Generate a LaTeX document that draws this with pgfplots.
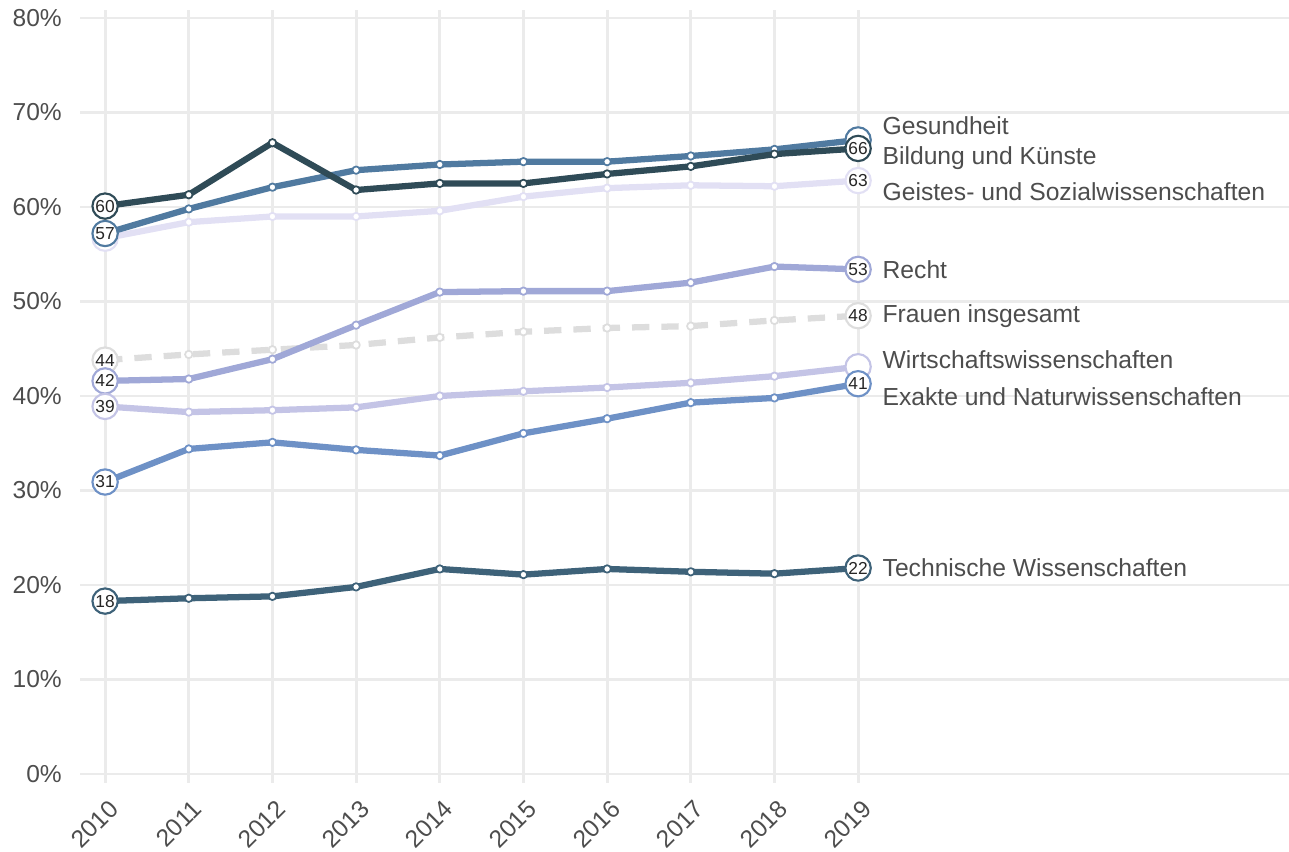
\documentclass[border=0pt]{standalone}
\usepackage{fontspec}
\setmainfont{Liberation Sans}
\usepackage{pgfplots}
\pgfplotsset{compat=1.18}
\definecolor{cGes}{HTML}{507AA0}
\definecolor{cBil}{HTML}{2F4B57}
\definecolor{cGei}{HTML}{E2E0F4}
\definecolor{cRec}{HTML}{A0A8D7}
\definecolor{cFra}{HTML}{DDDDDD}
\definecolor{cWir}{HTML}{C4C4E6}
\definecolor{cExa}{HTML}{6E91C6}
\definecolor{cTec}{HTML}{3E6279}
\definecolor{gridc}{HTML}{EBEBEB}
\definecolor{txt}{HTML}{4D4D4D}
\definecolor{numtxt}{HTML}{262626}
\pgfplotsset{
  serie/.style={line width=4.7pt, line join=round, mark=*, mark size=2.8pt,
    mark options={fill=white, solid, line width=1.3pt}},
  lbl/.style={only marks, mark=*, mark size=9.5pt,
    mark options={fill=white, draw=#1, line width=1.6pt, solid},
    nodes near coords, point meta=explicit symbolic,
    every node near coord/.append style={anchor=center, inner sep=0pt,
      font=\fontsize{13}{13}\selectfont, text=numtxt}},
}
\begin{document}
\begin{tikzpicture}
\useasboundingbox (0,0) rectangle (966.75pt,638.25pt);
\begin{axis}[
  at={(60pt,51pt)}, anchor=south west,
  scale only axis, width=906.75pt, height=579.75pt,
  xmin=2009.70, xmax=2024.15, ymin=-0.95, ymax=80.85,
  axis line style={draw=none}, major tick length=0pt,
  xtick={2010,2011,2012,2013,2014,2015,2016,2017,2018,2019},
  xticklabels={2010,2011,2012,2013,2014,2015,2016,2017,2018,2019},
  ytick={0,10,20,30,40,50,60,70,80},
  yticklabels={0\%,10\%,20\%,30\%,40\%,50\%,60\%,70\%,80\%},
  grid=major, major grid style={draw=gridc, line width=2.2pt},
  tick label style={font=\fontsize{18.4}{18.4}\selectfont, text=txt},
  yticklabel style={anchor=east, inner sep=0pt, xshift=-13.5pt},
  xticklabel style={xshift=2pt, yshift=-11.5pt, rotate=45, anchor=north east, inner sep=0pt},
  clip=false,
]
% Frauen insgesamt
\addplot[serie, color=cFra, dash pattern=on 13pt off 9pt] coordinates {
(2010,43.8) (2011,44.4) (2012,44.9) (2013,45.4) (2014,46.2) (2015,46.8) (2016,47.2) (2017,47.4) (2018,48.0) (2019,48.5)};
% Geistes- und Sozialwissenschaften
\addplot[serie, color=cGei] coordinates {
(2010,56.7) (2011,58.4) (2012,59.0) (2013,59.0) (2014,59.6) (2015,61.1) (2016,62.0) (2017,62.3) (2018,62.2) (2019,62.8)};
% Gesundheit
\addplot[serie, color=cGes] coordinates {
(2010,57.2) (2011,59.8) (2012,62.1) (2013,63.9) (2014,64.5) (2015,64.8) (2016,64.8) (2017,65.4) (2018,66.1) (2019,67.1)};
% Bildung und Kuenste
\addplot[serie, color=cBil] coordinates {
(2010,60.1) (2011,61.3) (2012,66.8) (2013,61.8) (2014,62.5) (2015,62.5) (2016,63.5) (2017,64.3) (2018,65.6) (2019,66.2)};
% Recht
\addplot[serie, color=cRec] coordinates {
(2010,41.6) (2011,41.8) (2012,43.9) (2013,47.5) (2014,51.0) (2015,51.1) (2016,51.1) (2017,52.0) (2018,53.7) (2019,53.4)};
% Wirtschaftswissenschaften
\addplot[serie, color=cWir] coordinates {
(2010,38.9) (2011,38.3) (2012,38.5) (2013,38.8) (2014,40.0) (2015,40.5) (2016,40.9) (2017,41.4) (2018,42.1) (2019,43.1)};
% Exakte und Naturwissenschaften
\addplot[serie, color=cExa] coordinates {
(2010,30.9) (2011,34.4) (2012,35.1) (2013,34.3) (2014,33.7) (2015,36.05) (2016,37.6) (2017,39.3) (2018,39.8) (2019,41.3)};
% Technische Wissenschaften
\addplot[serie, color=cTec] coordinates {
(2010,18.3) (2011,18.6) (2012,18.8) (2013,19.8) (2014,21.7) (2015,21.1) (2016,21.7) (2017,21.4) (2018,21.2) (2019,21.8)};
% end labels
\addplot[lbl=cFra] coordinates {(2010,43.8)[44] (2019,48.5)[48]};
\addplot[lbl=cGei] coordinates {(2010,56.7)[{}] (2019,62.8)[63]};
\addplot[lbl=cGes] coordinates {(2010,57.2)[57] (2019,67.1)[{}]};
\addplot[lbl=cBil] coordinates {(2010,60.1)[60] (2019,66.2)[66]};
\addplot[lbl=cRec] coordinates {(2010,41.6)[42] (2019,53.4)[53]};
\addplot[lbl=cWir] coordinates {(2010,38.9)[39] (2019,43.1)[{}]};
\addplot[lbl=cExa] coordinates {(2010,30.9)[31] (2019,41.3)[41]};
\addplot[lbl=cTec] coordinates {(2010,18.3)[18] (2019,21.8)[22]};
% series names
\begin{scope}[every node/.style={anchor=base west, inner sep=0pt, font=\fontsize{18.5}{18.5}\selectfont, text=txt}]
\node at (axis cs:2019.29,67.69) {Gesundheit};
\node at (axis cs:2019.29,64.51) {Bildung und Künste};
\node at (axis cs:2019.29,60.67) {Geistes- und Sozialwissenschaften};
\node at (axis cs:2019.29,52.45) {Recht};
\node at (axis cs:2019.29,47.76) {Frauen insgesamt};
\node at (axis cs:2019.29,42.93) {Wirtschaftswissenschaften};
\node at (axis cs:2019.29,39.05) {Exakte und Naturwissenschaften};
\node at (axis cs:2019.29,20.88) {Technische Wissenschaften};
\end{scope}
\end{axis}
\end{tikzpicture}
\end{document}
